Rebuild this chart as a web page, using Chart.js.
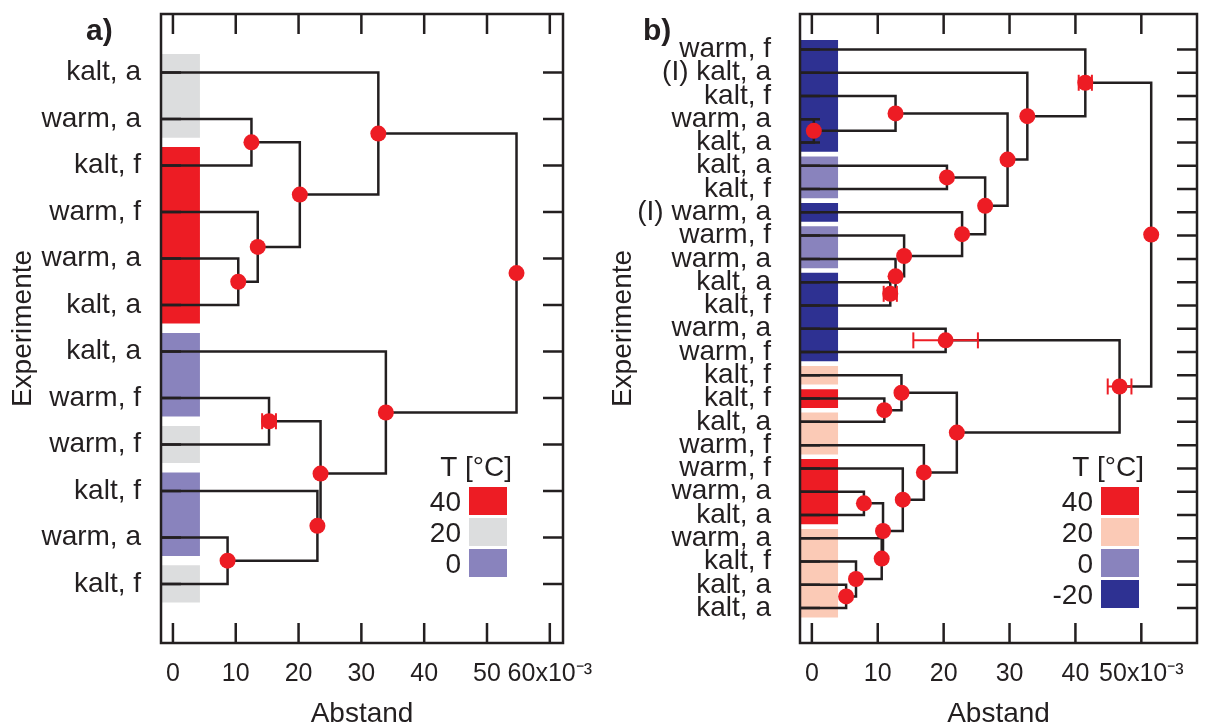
<!DOCTYPE html>
<html>
<head>
<meta charset="utf-8">
<title>Dendrogramme Experimente</title>
<script src="https://cdn.jsdelivr.net/npm/chart.js@4.4.1/dist/chart.umd.min.js"></script>
<style>
  html, body { margin: 0; padding: 0; background: #fff; }
  #wrap { position: relative; width: 1207px; height: 725px; overflow: hidden; }
  canvas { position: absolute; top: 0; }
  #chartA { left: 0; }
  #chartB { left: 600px; }
</style>
</head>
<body>
<div id="wrap">
  <canvas id="chartA" width="600" height="725"></canvas>
  <canvas id="chartB" width="607" height="725"></canvas>
</div>
<script>
// ---------- Panel a ----------
const labelsA = ["kalt, a", "warm, a", "kalt, f", "warm, f", "warm, a", "kalt, a",
                 "kalt, a", "warm, f", "warm, f", "kalt, f", "warm, a", "kalt, f"];
const tempsA = [20, 20, 40, 40, 40, 40, 0, 0, 20, 0, 0, 20];
// merge pairs: index < n = leaf, index >= n = earlier merge (n + k)
const linksA = [[1, 2], [4, 5], [3, 13], [12, 14], [0, 15], [7, 8],
                [10, 11], [9, 18], [17, 19], [6, 20], [16, 21]];
const heightsA = [12.5, 10.4, 13.5, 20.2, 32.7, 15.3, 8.7, 23.0, 23.5, 33.9, 54.7];
const errorsA  = [0, 0, 0, 0, 0, 1.1, 0, 0, 0, 0, 0];
const xTicksA = [0, 10, 20, 30, 40, 50, 60];
const legendTempsA = [40, 20, 0];

// ---------- Panel b ----------
const labelsB = ["warm, f", "(I) kalt, a", "kalt, f", "warm, a", "kalt, a", "kalt, a",
                 "kalt, f", "(I) warm, a", "warm, f", "warm, a", "kalt, a", "kalt, f",
                 "warm, a", "warm, f", "kalt, f", "kalt, f", "kalt, a", "warm, f",
                 "warm, f", "warm, a", "kalt, a", "warm, a", "kalt, f", "kalt, a", "kalt, a"];
const tempsB = [-20, -20, -20, -20, -20, 0, 0, -20, 0, 0, -20, -20, -20, -20,
                20, 40, 20, 20, 40, 40, 40, 20, 20, 20, 20];
const linksB = [[3, 4], [2, 25], [5, 6], [10, 11], [9, 28], [8, 29], [7, 30], [27, 31],
                [26, 32], [1, 33], [0, 34], [12, 13], [23, 24], [22, 37], [21, 38],
                [19, 20], [40, 39], [18, 41], [17, 42], [15, 16], [14, 44], [45, 43],
                [36, 46], [35, 47]];
const heightsB = [0.3, 12.7, 20.5, 11.9, 12.7, 14.0, 22.8, 26.3, 29.7, 32.7, 41.5, 20.3,
                  5.2, 6.7, 10.6, 7.9, 10.8, 13.8, 17.0, 11.0, 13.6, 22.0, 46.7, 51.5];
const errorsB  = [0, 0, 0, 1.0, 0, 0, 0, 0, 0, 0, 1.0, 4.9,
                  0, 0, 0, 0, 0, 0, 0, 0, 0, 0, 1.8, 0];
const xTicksB = [0, 10, 20, 30, 40, 50];
const legendTempsB = [40, 20, 0, -20];

const paletteA = { 40: "#ed1c24", 20: "#dcddde", 0: "#8983bd" };
const paletteB = { 40: "#ed1c24", 20: "#fbcab6", 0: "#8983bd", "-20": "#2e3192" };

const INK = "#231f20";
const RED = "#ed1c24";

Chart.defaults.font.family = "'Liberation Sans', Arial, Helvetica, sans-serif";
Chart.defaults.color = INK;

// ---------- plugins ----------
const framePlugin = {
  id: "frame",
  afterDatasetsDraw(chart, args, opts) {
    const { ctx, chartArea: a, scales: { x, y } } = chart;
    const len = opts.tickLength;
    ctx.save();
    ctx.strokeStyle = INK;
    ctx.lineWidth = 2.5;
    ctx.beginPath();
    x.ticks.forEach(t => {
      const px = x.getPixelForValue(t.value);
      ctx.moveTo(px, a.top); ctx.lineTo(px, a.top + len);
      ctx.moveTo(px, a.bottom); ctx.lineTo(px, a.bottom - len);
    });
    y.ticks.forEach(t => {
      const py = y.getPixelForValue(t.value);
      ctx.moveTo(a.left, py); ctx.lineTo(a.left + len, py);
      ctx.moveTo(a.right, py); ctx.lineTo(a.right - len, py);
    });
    ctx.stroke();
    ctx.strokeRect(a.left, a.top, a.right - a.left, a.bottom - a.top);
    ctx.restore();
  }
};

const tempLegendPlugin = {
  id: "tempLegend",
  afterDraw(chart, args, opts) {
    const { ctx, chartArea: a } = chart;
    const left = a.right - opts.offsetRight;
    ctx.save();
    ctx.fillStyle = INK;
    ctx.font = "28px 'Liberation Sans', Arial, sans-serif";
    ctx.textAlign = "right";
    ctx.textBaseline = "alphabetic";
    ctx.fillText("T [°C]", left + opts.w + 5, opts.titleBaseline);
    opts.temps.forEach((t, i) => {
      const top = opts.top + i * opts.step;
      ctx.fillStyle = opts.palette[t];
      ctx.fillRect(left, top, opts.w, opts.h);
      ctx.fillStyle = INK;
      ctx.fillText(String(t), left - 8, top + opts.h / 2 + 10);
    });
    ctx.restore();
  }
};

const panelTagPlugin = {
  id: "panelTag",
  afterDraw(chart, args, opts) {
    const { ctx } = chart;
    ctx.save();
    ctx.fillStyle = INK;
    ctx.font = "bold 30px 'Liberation Sans', Arial, sans-serif";
    ctx.textAlign = "left";
    ctx.textBaseline = "alphabetic";
    ctx.fillText(opts.text, opts.x, opts.y);
    ctx.restore();
  }
};

// ---------- dendrogram datasets ----------
function buildDatasets(labels, temps, links, heights, errors, palette, xMin, barEnd) {
  const n = labels.length;
  const pos = labels.map((_, i) => ({ x: xMin, y: i }));
  links.forEach(([p, q], k) => pos.push({ x: heights[k], y: (pos[p].y + pos[q].y) / 2 }));

  const sets = [];

  // node markers
  sets.push({
    data: pos.slice(n), showLine: false, pointRadius: 8, pointBackgroundColor: RED,
    pointBorderWidth: 0, order: 0
  });

  // error bars with caps
  links.forEach((_, k) => {
    const e = errors[k];
    if (!e) return;
    const node = pos[n + k];
    sets.push({
      data: [{ x: node.x - e, y: node.y }, { x: node.x + e, y: node.y }],
      borderColor: RED, borderWidth: 2, pointStyle: "line", rotation: 90,
      pointRadius: 8, pointBorderColor: RED, pointBorderWidth: 2, order: 1
    });
  });

  // links
  links.forEach(([p, q], k) => {
    const h = heights[k];
    sets.push({
      data: [{ x: pos[p].x, y: pos[p].y }, { x: h, y: pos[p].y },
             { x: h, y: pos[q].y }, { x: pos[q].x, y: pos[q].y }],
      borderColor: INK, borderWidth: 2.5, pointRadius: 0,
      borderJoinStyle: "miter", borderCapStyle: "butt", order: 2
    });
  });

  // temperature blocks, one per run of equal temperatures
  let start = 0;
  for (let i = 1; i <= n; i++) {
    if (i === n || temps[i] !== temps[start]) {
      sets.push({
        data: [{ x: xMin, y: start - 0.4 }, { x: barEnd, y: start - 0.4 }],
        fill: { value: i - 1 + 0.4 }, backgroundColor: palette[temps[start]],
        borderWidth: 0, pointRadius: 0, order: 3
      });
      start = i;
    }
  }
  return sets;
}

function makeChart(id, cfg) {
  const lastTick = cfg.xTicks[cfg.xTicks.length - 1];
  return new Chart(document.getElementById(id), {
    type: "line",
    data: {
      datasets: buildDatasets(cfg.labels, cfg.temps, cfg.links, cfg.heights, cfg.errors,
                              cfg.palette, cfg.xMin, cfg.barEnd)
    },
    options: {
      responsive: false,
      animation: false,
      events: [],
      layout: { padding: { top: 14, right: cfg.padRight, left: 0, bottom: 0 } },
      plugins: {
        legend: { display: false },
        tooltip: { enabled: false },
        frame: { tickLength: 20 },
        tempLegend: {
          temps: cfg.legendTemps, palette: cfg.palette, offsetRight: cfg.legendOffset,
          w: 38, h: 28, step: 31, top: 487, titleBaseline: 476
        },
        panelTag: cfg.tag
      },
      scales: {
        x: {
          type: "linear", min: cfg.xMin, max: cfg.xMax,
          grid: { display: false }, border: { display: false },
          afterBuildTicks: s => { s.ticks = cfg.xTicks.map(v => ({ value: v })); },
          afterFit: s => { s.height = 82; s.paddingLeft = 0; s.paddingRight = 0; },
          ticks: {
            autoSkip: false, maxRotation: 0, padding: 8, color: INK,
            font: { size: 25 },
            callback: v => (v === lastTick ? v + "x10\u207B\u00B3" : String(v))
          },
          title: {
            display: true, text: "Abstand", color: INK,
            font: { size: 28 }, padding: { top: 0, bottom: -6 }
          }
        },
        y: {
          type: "linear", reverse: true, min: cfg.yMin, max: cfg.yMax,
          grid: { display: false }, border: { display: false },
          afterBuildTicks: s => { s.ticks = cfg.labels.map((_, i) => ({ value: i })); },
          afterFit: s => { s.width = cfg.yWidth; s.paddingTop = 0; s.paddingBottom = 0; },
          ticks: {
            autoSkip: false, padding: cfg.labelPad, color: INK,
            font: { size: 28 },
            callback: v => cfg.labels[v]
          },
          title: {
            display: true, text: "Experimente", color: INK,
            font: { size: 28 }, padding: { top: 6, bottom: 0 }
          }
        }
      }
    },
    plugins: [framePlugin, tempLegendPlugin, panelTagPlugin]
  });
}

makeChart("chartA", {
  labels: labelsA, temps: tempsA, links: linksA, heights: heightsA, errors: errorsA,
  palette: paletteA, legendTemps: legendTempsA, xTicks: xTicksA,
  xMin: -1.9, xMax: 62.1, yMin: -1.26, yMax: 12.27, barEnd: 4.3,
  padRight: 37, yWidth: 161, labelPad: 12, legendOffset: 94,
  tag: { text: "a)", x: 86, y: 40 }
});

makeChart("chartB", {
  labels: labelsB, temps: tempsB, links: linksB, heights: heightsB, errors: errorsB,
  palette: paletteB, legendTemps: legendTempsB, xTicks: xTicksB,
  xMin: -1.8, xMax: 58.45, yMin: -1.52, yMax: 25.5, barEnd: 4.0,
  padRight: 4, yWidth: 200, labelPad: 21, legendOffset: 96,
  tag: { text: "b)", x: 43, y: 40 }
});
</script>
</body>
</html>
